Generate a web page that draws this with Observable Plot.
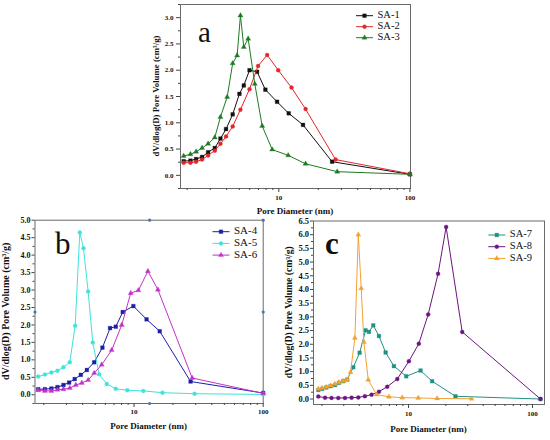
<!DOCTYPE html>
<html><head><meta charset="utf-8">
<script src="https://cdn.jsdelivr.net/npm/d3@7"></script>
<script src="https://cdn.jsdelivr.net/npm/@observablehq/plot@0.6"></script>
<style>
body{margin:0;background:#fff;}
#wrap{position:relative;width:550px;height:440px;overflow:hidden;background:#fff;}
#wrap svg{position:absolute;overflow:visible;}
</style></head><body><div id="wrap"></div>
<script>
// ---------- data (pore diameter in nm, dV/dlog(D) in cm3/g) ----------
const sa1X = [1.88, 2.12, 2.34, 2.6, 2.89, 3.25, 3.59, 3.96, 4.45, 5.01, 5.41, 5.98, 6.83, 7.9, 9.7, 11.9, 15.3, 25.5, 100];
const sa1Y = [0.27, 0.28, 0.31, 0.35, 0.44, 0.52, 0.70, 0.88, 1.16, 1.55, 1.71, 2.0, 1.97, 1.63, 1.40, 1.18, 0.96, 0.26, 0.02];
const sa2X = [1.88, 2.12, 2.34, 2.6, 2.89, 3.25, 3.59, 3.96, 4.45, 5.1, 5.98, 6.95, 8.15, 9.9, 12.5, 16.0, 27.1, 100];
const sa2Y = [0.24, 0.24, 0.26, 0.30, 0.38, 0.47, 0.60, 0.74, 0.93, 1.25, 1.64, 2.08, 2.29, 2.0, 1.67, 1.26, 0.30, 0.03];
const sa3X = [1.88, 2.12, 2.34, 2.6, 2.89, 3.25, 3.59, 4.04, 4.45, 4.81, 5.1, 5.41, 5.84, 6.56, 7.47, 8.91, 11.8, 16.0, 27.9, 100];
const sa3Y = [0.37, 0.40, 0.45, 0.52, 0.60, 0.72, 1.11, 1.49, 2.13, 2.28, 3.04, 2.44, 2.60, 1.74, 0.94, 0.49, 0.38, 0.22, 0.07, 0.02];

const sa4X = [1.81, 2.04, 2.29, 2.55, 2.84, 3.14, 3.47, 3.87, 4.31, 4.91, 5.69, 6.52, 7.22, 8.17, 9.88, 12.5, 15.8, 27.4, 100];
const sa4Y = [0.16, 0.16, 0.18, 0.22, 0.28, 0.35, 0.45, 0.57, 0.71, 0.93, 1.35, 1.91, 1.95, 2.37, 2.54, 2.16, 1.82, 0.38, 0.05];
const sa5X = [1.81, 2.04, 2.29, 2.55, 2.84, 3.18, 3.50, 3.80, 4.06, 4.41, 4.79, 5.36, 6.15, 7.22, 8.88, 11.8, 16.6, 29.4, 100];
const sa5Y = [0.52, 0.58, 0.64, 0.69, 0.79, 0.93, 1.98, 4.65, 4.2, 2.96, 1.50, 0.59, 0.31, 0.17, 0.13, 0.11, 0.06, 0.03, 0.01];
const sa6X = [1.81, 2.04, 2.29, 2.55, 2.84, 3.18, 3.54, 3.94, 4.41, 4.91, 5.62, 6.71, 8.03, 9.42, 10.8, 12.8, 15.3, 28.2, 100];
const sa6Y = [0.13, 0.11, 0.11, 0.14, 0.16, 0.19, 0.28, 0.34, 0.42, 0.62, 0.86, 1.28, 2.0, 2.91, 2.99, 3.54, 3.01, 0.48, 0.04];

const sa7X = [1.87, 2.01, 2.17, 2.35, 2.55, 2.74, 2.97, 3.20, 3.58, 4.03, 4.50, 4.79, 5.19, 5.77, 6.53, 7.62, 9.58, 12.5, 15.5, 23.9, 116];
const sa7Y = [0.33, 0.37, 0.42, 0.47, 0.51, 0.59, 0.65, 0.71, 1.16, 1.69, 2.51, 2.45, 2.69, 2.30, 1.70, 1.20, 0.83, 1.04, 0.65, 0.10, 0.0];
const sa8X = [1.87, 2.12, 2.39, 2.71, 3.07, 3.47, 3.93, 4.44, 5.03, 5.77, 6.73, 8.11, 10.06, 12.1, 14.4, 17.3, 20.1, 27.1, 116];
const sa8Y = [0.09, 0.05, 0.04, 0.04, 0.04, 0.05, 0.06, 0.10, 0.16, 0.27, 0.45, 0.73, 1.38, 2.02, 3.09, 4.57, 6.28, 2.45, 0.0];
const sa9X = [1.87, 2.01, 2.17, 2.35, 2.55, 2.74, 2.97, 3.20, 3.40, 3.69, 3.93, 4.15, 4.36, 4.73, 5.52, 6.94, 8.89, 11.97, 17.0, 32.2];
const sa9Y = [0.37, 0.40, 0.44, 0.49, 0.55, 0.61, 0.66, 0.71, 0.98, 2.23, 6.0, 4.04, 2.08, 0.70, 0.16, 0.08, 0.05, 0.04, 0.02, 0.01];

// ---------- ticks ----------
const xMajorTicks = [10, 100];
const xMinorTicks = [2, 3, 4, 5, 6, 7, 8, 9, 20, 30, 40, 50, 60, 70, 80, 90];
const yMajorA = [0, 0.5, 1.0, 1.5, 2.0, 2.5, 3.0];
const yMinorA = [-0.25, 0.25, 0.75, 1.25, 1.75, 2.25, 2.75, 3.25];
const yMajorB = [0, 0.5, 1.0, 1.5, 2.0, 2.5, 3.0, 3.5, 4.0, 4.5, 5.0];
const yMinorB = [-0.25, 0.25, 0.75, 1.25, 1.75, 2.25, 2.75, 3.25, 3.75, 4.25, 4.75];
const yMajorC = [0, 0.5, 1.0, 1.5, 2.0, 2.5, 3.0, 3.5, 4.0, 4.5, 5.0, 5.5, 6.0, 6.5];
const yMinorC = [0.25, 0.75, 1.25, 1.75, 2.25, 2.75, 3.25, 3.75, 4.25, 4.75, 5.25, 5.75, 6.25];

// odd marker dots on panel b's frame (present in the original figure)
const bFrameDotX = [13.2, 13.2, 100, 1.71, 100];
const bFrameDotY = [5.0, -0.25, 5.0, 2.37, 2.37];

const FONT = "'Liberation Serif','Times New Roman',serif";
const FRAME = "#6a6a6a";

function panel(cfg) {
  const marks = [Plot.frame({stroke: FRAME, strokeWidth: 1})];
  marks.push(Plot.axisY(cfg.yMajor, {tickSize: cfg.yTickSize, tickPadding: cfg.yTickPad, tickFormat: d3.format(".1f"),
    fontSize: cfg.yFont, fontWeight: "bold", fontFamily: FONT, label: null, stroke: "#444", fill: "#111"}));
  marks.push(Plot.axisY(cfg.yMinor, {tickSize: 2, tickFormat: () => "", label: null, stroke: "#444"}));
  marks.push(Plot.axisX(xMajorTicks, {tickSize: 4, tickPadding: cfg.xTickPad, tickFormat: d => String(d),
    fontSize: 7, fontWeight: "bold", fontFamily: FONT, label: null, stroke: "#444", fill: "#111"}));
  marks.push(Plot.axisX(xMinorTicks.filter(t => t > cfg.xDomain[0] && t < cfg.xDomain[1]), {tickSize: 2, tickFormat: () => "", label: null, stroke: "#444"}));
  if (cfg.frameDots) {
    const fd = cfg.frameDots.x.map((x, i) => ({x, y: cfg.frameDots.y[i]}));
    marks.push(Plot.dot(fd, {x: "x", y: "y", r: 1.6, fill: "#4f73a8", stroke: "none"}));
  }
  cfg.series.forEach(s => {
    const rows = s.x.map((x, i) => ({x, y: s.y[i]}));
    marks.push(Plot.line(rows, {x: "x", y: "y", stroke: s.color, strokeWidth: 1}));
    marks.push(Plot.dot(rows, {x: "x", y: "y", fill: s.color, stroke: s.color, strokeWidth: 0.3, symbol: s.symbol, r: s.r}));
  });
  const svg = Plot.plot({
    width: cfg.width, height: cfg.height,
    marginLeft: cfg.m[0], marginRight: cfg.m[1], marginTop: cfg.m[2], marginBottom: cfg.m[3],
    x: {type: "log", domain: cfg.xDomain},
    y: {domain: cfg.yDomain},
    style: {fontFamily: FONT, background: "transparent", color: "#222"},
    marks
  });
  svg.style.left = cfg.left + "px";
  svg.style.top = cfg.top + "px";
  document.getElementById("wrap").appendChild(svg);

  const s = d3.select(svg);
  const x0 = cfg.m[0], x1 = cfg.width - cfg.m[1], y0 = cfg.m[2], y1 = cfg.height - cfg.m[3];
  // y axis title
  s.append("text").attr("transform", `translate(${x0 + cfg.yLabelDx},${(y0 + y1) / 2}) rotate(-90)`)
    .attr("text-anchor", "middle").attr("dominant-baseline", "middle")
    .attr("font-family", FONT).attr("font-weight", "bold").attr("font-size", cfg.yLabelFont).attr("fill", "#111")
    .text("dV/dlog(D) Pore Volume (cm³/g)");
  // x axis title
  s.append("text").attr("x", (x0 + x1) / 2).attr("y", y1 + cfg.xLabelDy)
    .attr("text-anchor", "middle").attr("dominant-baseline", "middle")
    .attr("font-family", FONT).attr("font-weight", "bold").attr("font-size", 9).attr("fill", "#111")
    .text("Pore Diameter (nm)");
  // panel letter
  s.append("text").attr("x", cfg.letter.x).attr("y", cfg.letter.y).attr("text-anchor", "start")
    .attr("font-family", FONT).attr("font-weight", cfg.letter.bold ? "bold" : "normal")
    .attr("font-size", cfg.letter.size).attr("fill", "#111").text(cfg.letter.t);
  // legend
  const L = cfg.legend;
  cfg.series.forEach((ser, i) => {
    const yy = L.y + i * L.dy;
    const g = s.append("g");
    g.append("line").attr("x1", L.x).attr("x2", L.x + 17).attr("y1", yy).attr("y2", yy)
      .attr("stroke", ser.color).attr("stroke-width", 1);
    const sym = {square: d3.symbolSquare, circle: d3.symbolCircle, triangle: d3.symbolTriangle}[ser.symbol];
    g.append("path").attr("transform", `translate(${L.x + 8.5},${yy})`)
      .attr("d", d3.symbol(sym, Math.PI * ser.r * ser.r)()).attr("fill", ser.color).attr("stroke", ser.color).attr("stroke-width", 0.3);
    g.append("text").attr("x", L.x + 21.5).attr("y", yy).attr("dominant-baseline", "middle").attr("text-anchor", "start")
      .attr("font-family", FONT).attr("font-size", L.font).attr("fill", "#111").text(ser.name);
  });
}

// Panel a
panel({
  left: 0, top: 0, width: 550, height: 220, m: [180, 140, 4, 32],
  xDomain: [1.78, 101], yDomain: [-0.25, 3.25], yMajor: yMajorA, yMinor: yMinorA,
  yTickSize: 4, yTickPad: 3, yFont: 7, xTickPad: 3,
  yLabelDx: -23.5, yLabelFont: 8.8, xLabelDy: 24,
  letter: {t: "a", x: 198, y: 41.5, size: 29, bold: false},
  legend: {x: 356, y: 15.7, dy: 11, font: 10.5},
  series: [
    {name: "SA-1", x: sa1X, y: sa1Y, color: "#111111", symbol: "square", r: 2.1},
    {name: "SA-2", x: sa2X, y: sa2Y, color: "#e3262a", symbol: "circle", r: 2.0},
    {name: "SA-3", x: sa3X, y: sa3Y, color: "#1f7a24", symbol: "triangle", r: 1.9}
  ]
});

// Panel b
panel({
  left: 0, top: 215, width: 275, height: 225, m: [34.5, 12.3, 4.7, 37],
  xDomain: [1.71, 100], yDomain: [-0.25, 5.0], yMajor: yMajorB, yMinor: yMinorB,
  yTickSize: 3, yTickPad: 1.5, yFont: 8, xTickPad: 2,
  yLabelDx: -28, yLabelFont: 10, xLabelDy: 24,
  frameDots: {x: bFrameDotX, y: bFrameDotY},
  letter: {t: "b", x: 55, y: 38.5, size: 31, bold: false},
  legend: {x: 212.5, y: 16.7, dy: 11.7, font: 11},
  series: [
    {name: "SA-4", x: sa4X, y: sa4Y, color: "#1c1fa6", symbol: "square", r: 2.1},
    {name: "SA-5", x: sa5X, y: sa5Y, color: "#3fe3dd", symbol: "circle", r: 2.0},
    {name: "SA-6", x: sa6X, y: sa6Y, color: "#c232c8", symbol: "triangle", r: 1.9}
  ]
});

// Panel c
panel({
  left: 275, top: 215, width: 275, height: 225, m: [38, 6, 5.5, 36],
  xDomain: [1.71, 125], yDomain: [-0.2, 6.5], yMajor: yMajorC, yMinor: yMinorC,
  yTickSize: 3, yTickPad: 1.5, yFont: 8.5, xTickPad: 3,
  yLabelDx: -23.5, yLabelFont: 9.6, xLabelDy: 26,
  letter: {t: "c", x: 50, y: 38.5, size: 31, bold: true},
  legend: {x: 213.3, y: 20, dy: 11.7, font: 10.5},
  series: [
    {name: "SA-7", x: sa7X, y: sa7Y, color: "#1f9184", symbol: "square", r: 2.1},
    {name: "SA-8", x: sa8X, y: sa8Y, color: "#6d1580", symbol: "circle", r: 2.0},
    {name: "SA-9", x: sa9X, y: sa9Y, color: "#f2a233", symbol: "triangle", r: 1.9}
  ]
});
</script></body></html>
